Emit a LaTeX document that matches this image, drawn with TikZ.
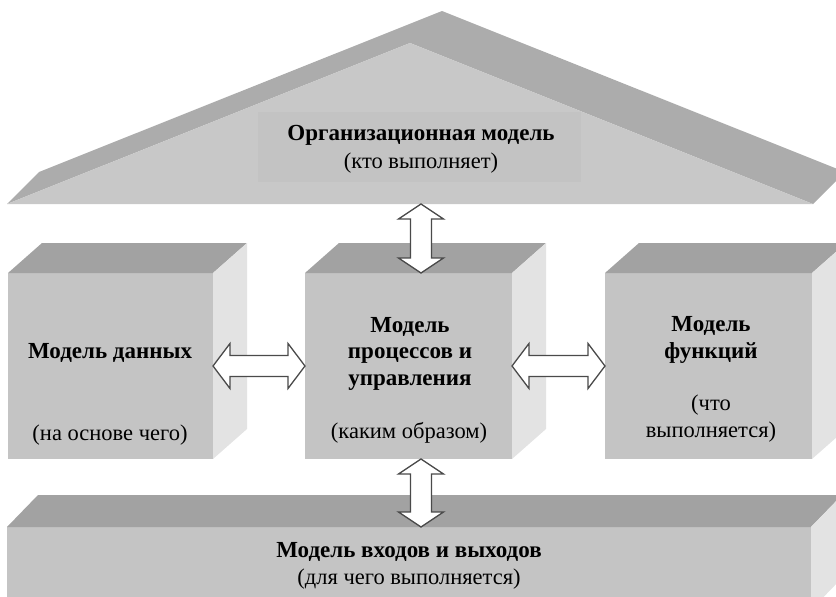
\documentclass[tikz,border=0pt]{standalone}
\usepackage{fontspec}
\setmainfont{Liberation Serif}
\usetikzlibrary{calc}

\definecolor{frontgray}{HTML}{C4C4C4}
\definecolor{topgray}{HTML}{A2A2A2}
\definecolor{sidegray}{HTML}{E3E3E3}
\definecolor{rooffront}{HTML}{C8C8C8}
\definecolor{roofband}{HTML}{ACACAC}
\definecolor{labelbg}{HTML}{C3C3C3}
\definecolor{arrowline}{HTML}{4A4A4A}

% two-way block arrow between two tips on one row: #1 left tip, #2 right tip
\newcommand\hlink[2]{%
  \draw[linkline] (#1) -- ($(#1)+(17,-22.5)$) -- ($(#1)+(17,-10.5)$)
    -- ($(#2)+(-17,-10.5)$) -- ($(#2)+(-17,-22.5)$) -- (#2)
    -- ($(#2)+(-17,22.5)$) -- ($(#2)+(-17,10.5)$)
    -- ($(#1)+(17,10.5)$) -- ($(#1)+(17,22.5)$) -- cycle;}
% two-way block arrow between two tips in one column: #1 top tip, #2 bottom tip
\newcommand\vlink[2]{%
  \draw[linkline] (#1) -- ($(#1)+(22.5,15)$) -- ($(#1)+(10.5,15)$)
    -- ($(#2)+(10.5,-15)$) -- ($(#2)+(22.5,-15)$) -- (#2)
    -- ($(#2)+(-22.5,-15)$) -- ($(#2)+(-10.5,-15)$)
    -- ($(#1)+(-10.5,15)$) -- ($(#1)+(-22.5,15)$) -- cycle;}

\begin{document}
\begin{tikzpicture}[x=1pt,y=-1pt,
  face/.style={fill=frontgray, draw=none, inner sep=0pt, outer sep=0pt},
  topface/.style={fill=topgray},
  sideface/.style={fill=sidegray},
  title/.style={font=\bfseries\fontsize{23}{26.5}\selectfont, align=center, inner sep=0pt},
  note/.style={font=\fontsize{22.5}{26.5}\selectfont, align=center, inner sep=0pt},
  linkline/.style={draw=arrowline, line width=1.3pt, fill=white, line join=miter}]

\useasboundingbox (0,0) rectangle (836,597);

% ---- roof: organisational model ----
\coordinate (rl) at (7,204);
\coordinate (rt) at (410,43);
\coordinate (rr) at (813,204);
\fill[roofband] (rl) -- ($(rl)+(32,-32)$) -- ($(rt)+(32,-32)$) -- ($(rr)+(32,-32)$)
  -- (rr) -- (rt) -- cycle;
\fill[rooffront] (rl) -- (rt) -- (rr) -- cycle;
\node[fill=labelbg, inner sep=0pt, minimum width=323pt, minimum height=70pt] (orgbg) at (419.5,147) {};
\node[title] (orgt) at (421,135) {Организационная модель};
\node[note] (orgn) at (421,163) {(кто выполняет)};

% ---- three model blocks ----
\node[face, minimum width=205pt, minimum height=186pt] (data) at (110.5,366) {};
\node[face, minimum width=207pt, minimum height=186pt] (proc) at (408.5,366) {};
\node[face, minimum width=207pt, minimum height=186pt] (func) at (708.5,366) {};
\foreach \b in {data,proc,func}{
  \fill[topface] (\b.north west) -- ($(\b.north west)+(34,-30)$)
    -- ($(\b.north east)+(34,-30)$) -- (\b.north east) -- cycle;
  \fill[sideface] (\b.north east) -- ($(\b.north east)+(34,-30)$)
    -- ($(\b.south east)+(34,-30)$) -- (\b.south east) -- cycle;
}

\node[title] (datat) at (110,353) {Модель данных};
\node[note]  (datan) at (110,435) {(на основе чего)};

\node[title] (proct) at (410,353.5) {Модель\\процессов и\\управления};
\node[note]  (procn) at (409,433) {(каким образом)};

\node[title] (funct) at (711,340) {Модель\\функций};
\node[note]  (funcn) at (711,418.5) {(что\\выполняется)};

% ---- base: inputs and outputs ----
\node[face, minimum width=804pt, minimum height=83pt] (base) at (409,568.5) {};
\fill[topface] (base.north west) -- ($(base.north west)+(31,-32)$)
  -- ($(base.north east)+(31,-32)$) -- (base.north east) -- cycle;
\fill[sideface] (base.north east) -- ($(base.north east)+(31,-32)$)
  -- ($(base.south east)+(31,-32)$) -- (base.south east) -- cycle;
\node[title] (baset) at (409,552) {Модель входов и выходов};
\node[note]  (basen) at (409,579) {(для чего выполняется)};

% ---- two-way links ----
\coordinate (roofbase) at (421,204);
\coordinate (basetop) at (421,527);
\coordinate (proctop) at (roofbase |- proc.north);
\coordinate (procbot) at (basetop |- proc.south);
\hlink{data.east}{proc.west}
\hlink{proc.east}{func.west}
\vlink{roofbase}{proctop}
\vlink{procbot}{basetop}

\end{tikzpicture}
\end{document}
